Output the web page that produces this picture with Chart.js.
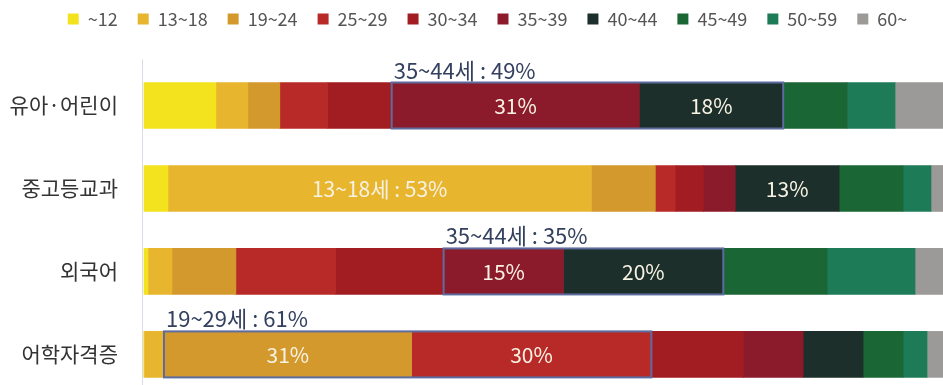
<!DOCTYPE html>
<html>
<head>
<meta charset="utf-8">
<script src="https://cdn.jsdelivr.net/npm/chart.js@4"></script>
<style>
  html, body { margin: 0; padding: 0; background: #fff; }
  #wrap { width: 943px; height: 385px; }
</style>
</head>
<body>
<div id="wrap"><canvas id="ageChart"></canvas></div>
<script>
const subjects = ["유아·어린이", "중고등교과", "외국어", "어학자격증"];
const ageGroups = ["~12", "13~18", "19~24", "25~29", "30~34", "35~39", "40~44", "45~49", "50~59", "60~"];
const ageColors = ["#f3e31f", "#e7b52e", "#d3992d", "#b82a28", "#a11d22", "#8b1a2b", "#1c2f2a", "#1b6635", "#1e7b58", "#9c9a98"];

// share (%) of each age group, one row per age group, one value per subject
const shares = [
  [9, 3, 0.5, 0],      // ~12
  [4, 53, 3, 2.5],     // 13~18
  [4, 8, 8, 31],       // 19~24
  [6, 2.5, 12.5, 30],  // 25~29
  [8, 3.5, 13.5, 11.5],// 30~34
  [31, 4, 15, 7.5],    // 35~39
  [18, 13, 20, 7.5],   // 40~44
  [8, 8, 13, 5],       // 45~49
  [6, 3.5, 11, 3],     // 50~59
  [6, 1.5, 3.5, 2]     // 60~
];

// [subject index, age group index] of the segments with a value printed inside
const insideLabels = [[0, 5], [0, 6], [1, 1], [1, 6], [2, 5], [2, 6], [3, 2], [3, 3]];
// boxed groups of segments
const highlights = [
  { row: 0, from: 5, to: 6, name: "35~44세" },
  { row: 2, from: 5, to: 6, name: "35~44세" },
  { row: 3, from: 2, to: 3, name: "19~29세" }
];

const FONT = "'Noto Sans CJK KR', 'Noto Sans', sans-serif";

const barTextPlugin = {
  id: "barText",
  afterLayout(chart) {
    // legend sits a little right of centre in the original
    chart.legend.left += 16;
    chart.legend.right += 16;
  },
  beforeDatasetsDraw(chart) {
    const c = chart.ctx, a = chart.chartArea;
    c.save();
    c.strokeStyle = "#d9dce4";
    c.lineWidth = 1;
    c.beginPath();
    c.moveTo(a.left - 1.5, a.top - 46);
    c.lineTo(a.left - 1.5, chart.height);
    c.stroke();
    c.restore();
  },
  afterDatasetsDraw(chart) {
    const c = chart.ctx;
    c.save();
    c.textBaseline = "middle";
    c.textAlign = "center";
    c.fillStyle = "#f7f2e4";
    c.font = "21px " + FONT;
    insideLabels.forEach(([row, ds]) => {
      const bar = chart.getDatasetMeta(ds).data[row];
      let txt = shares[ds][row] + "%";
      if (row === 1 && ds === 1) txt = ageGroups[1] + "세 : " + txt;
      c.fillText(txt, (bar.x + bar.base) / 2, bar.y + 1);
    });

    c.font = "22px " + FONT;
    highlights.forEach(h => {
      const first = chart.getDatasetMeta(h.from).data[h.row];
      const last = chart.getDatasetMeta(h.to).data[h.row];
      const x0 = first.base, x1 = last.x;
      const top = first.y - first.height / 2, bottom = first.y + first.height / 2;
      c.strokeStyle = "#5d6b9f";
      c.lineWidth = 2;
      c.strokeRect(x0, top, x1 - x0, bottom - top);
      let sum = 0;
      for (let i = h.from; i <= h.to; i++) sum += shares[i][h.row];
      c.fillStyle = "#34405f";
      c.textAlign = "left";
      c.textBaseline = "alphabetic";
      c.fillText(h.name + " : " + sum + "%", x0 + 2, top - 4);
    });
    c.restore();
  }
};

const ctx = document.getElementById("ageChart").getContext("2d");
new Chart(ctx, {
  type: "bar",
  data: {
    labels: subjects,
    datasets: ageGroups.map((g, i) => ({
      label: g,
      data: shares[i],
      backgroundColor: ageColors[i],
      borderWidth: 0,
      barThickness: 46,
      clip: false
    }))
  },
  options: {
    indexAxis: "y",
    responsive: true,
    maintainAspectRatio: false,
    animation: false,
    layout: { padding: { top: -10, bottom: 24.5, left: 0, right: 0 } },
    plugins: {
      legend: {
        position: "top",
        labels: {
          boxWidth: 11,
          boxHeight: 11,
          padding: 20,
          color: "#555",
          font: { family: FONT, size: 18 }
        }
      },
      tooltip: { enabled: false }
    },
    scales: {
      x: {
        stacked: true, min: 0, max: 100, position: "top",
        grid: { display: false },
        border: { display: false },
        ticks: { display: false },
        afterFit: s => { s.height = 67.5; }
      },
      y: {
        stacked: true,
        offset: false,
        grid: { display: false },
        border: { display: false },
        ticks: { color: "#333", padding: 18, font: { family: FONT, size: 21 } },
        afterFit: s => { s.width = 144; }
      }
    }
  },
  plugins: [barTextPlugin]
});
</script>
</body>
</html>
